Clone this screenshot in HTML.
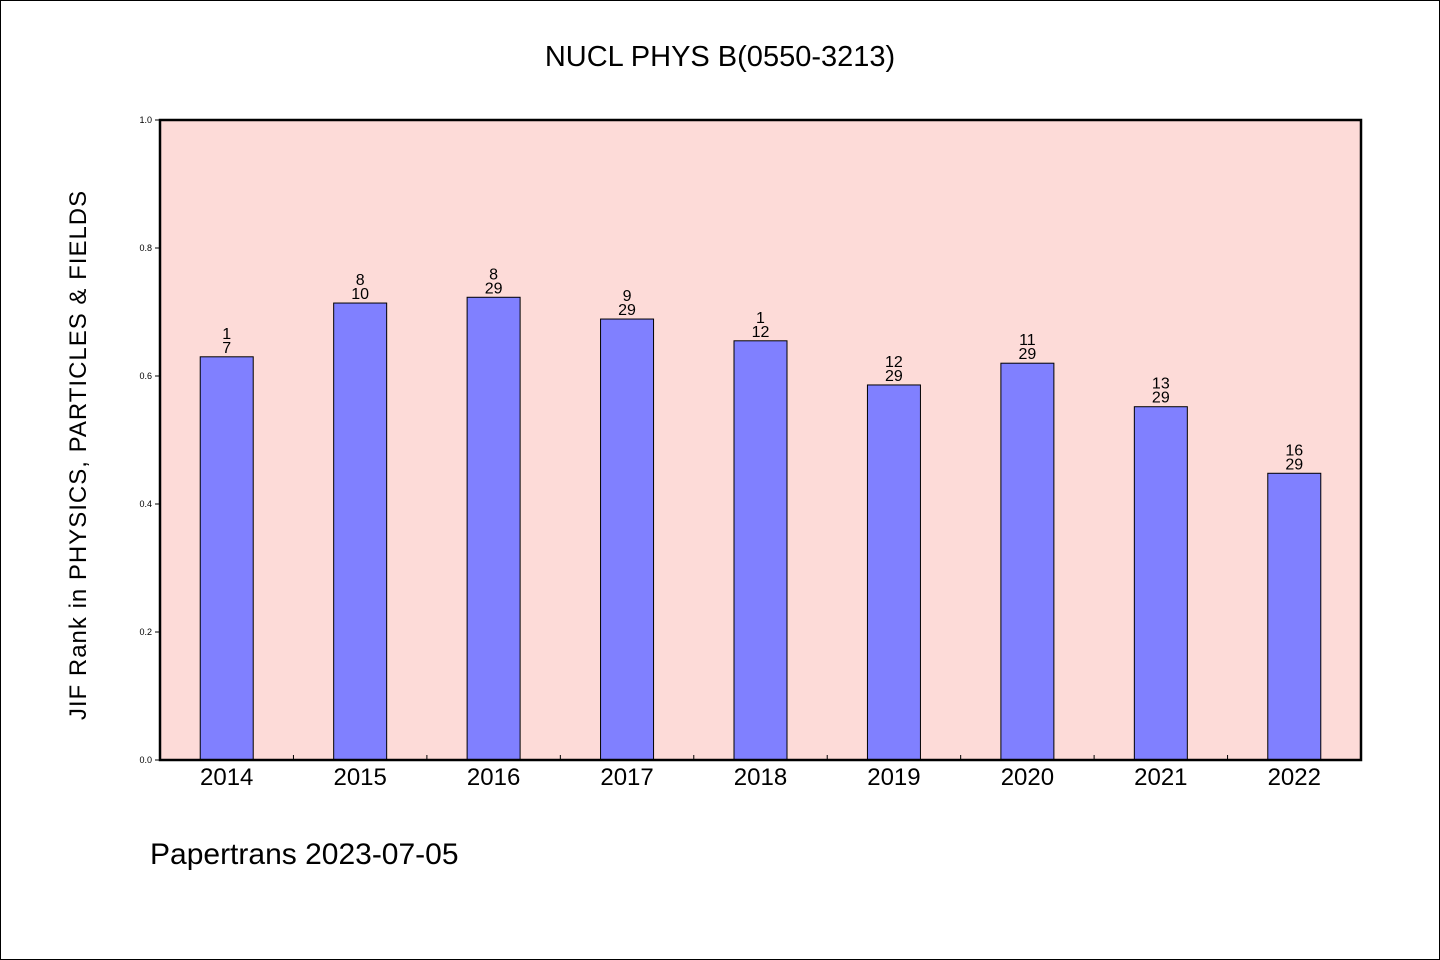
<!DOCTYPE html>
<html><head><meta charset="utf-8"><style>
html,body{margin:0;padding:0;background:#fff}
svg{display:block;font-family:"WenQuanYi Zen Hei","Liberation Sans",sans-serif}
</style></head><body>
<svg id="chart" width="1440" height="960">
<rect x="0.5" y="0.5" width="1439" height="959" fill="#fff" stroke="#000"/>
<text x="720" y="66" text-anchor="middle" font-size="29">NUCL PHYS B(0550-3213)</text>
<rect x="160" y="120" width="1201" height="640" fill="#fddbd8"/>
<g id="marks"></g>
<rect x="160" y="120" width="1201" height="640" fill="none" stroke="#000" stroke-width="2.5"/>
<text transform="translate(86,455) rotate(-90)" text-anchor="middle" font-size="24" letter-spacing="1">JIF Rank in PHYSICS, PARTICLES &amp; FIELDS</text>
<text x="150" y="864" font-size="30">Papertrans 2023-07-05</text>
</svg>
<script>
const years=["2014","2015","2016","2017","2018","2019","2020","2021","2022"];
const values=[0.630,0.714,0.723,0.689,0.655,0.586,0.620,0.552,0.448];
const ranks=["1","8","8","9","1","12","11","13","16"];
const totals=["7","10","29","29","12","29","29","29","29"];
const yTicks=[0,0.2,0.4,0.6,0.8,1.0];
const NS="http://www.w3.org/2000/svg";
const X0=160,X1=1361,Y0=760,Y1=120;
const bw=(X1-X0)/years.length;
const xC=i=>X0+bw*(i+0.5);
const yS=v=>Y0-(Y0-Y1)*v;
const g=document.getElementById('marks');
function mk(t,a){const e=document.createElementNS(NS,t);for(const k in a)e.setAttribute(k,a[k]);g.appendChild(e);return e;}
yTicks.forEach(t=>{
  const l=mk('line',{x1:X0-5,x2:X0,y1:yS(t),y2:yS(t),stroke:'#000'});
  
  
  const tx=mk('text',{x:X0-8,y:yS(t)+3,'text-anchor':'end','font-size':9});
  tx.textContent=t.toFixed(1);
  
  
});
years.forEach((y,i)=>{
  if(i>0){const s=mk('line',{x1:X0+bw*i,x2:X0+bw*i,y1:Y0,y2:Y0-5,stroke:'#000'});
  
  }
  const top=yS(values[i]);
  const b=mk('rect',{x:xC(i)-26.5,y:top,width:53,height:Y0-top,fill:'#8080ff',stroke:'#000','stroke-width':1});
  
  
  const r=mk('text',{x:xC(i),y:top-18,'text-anchor':'middle','font-size':16});
  r.textContent=ranks[i];
  
  
  const t=mk('text',{x:xC(i),y:top-4,'text-anchor':'middle','font-size':16});
  t.textContent=totals[i];
  
  
  const xl=mk('text',{x:xC(i),y:785,'text-anchor':'middle','font-size':24});
  xl.textContent=y;
  
  
});
</script>
</body></html>
